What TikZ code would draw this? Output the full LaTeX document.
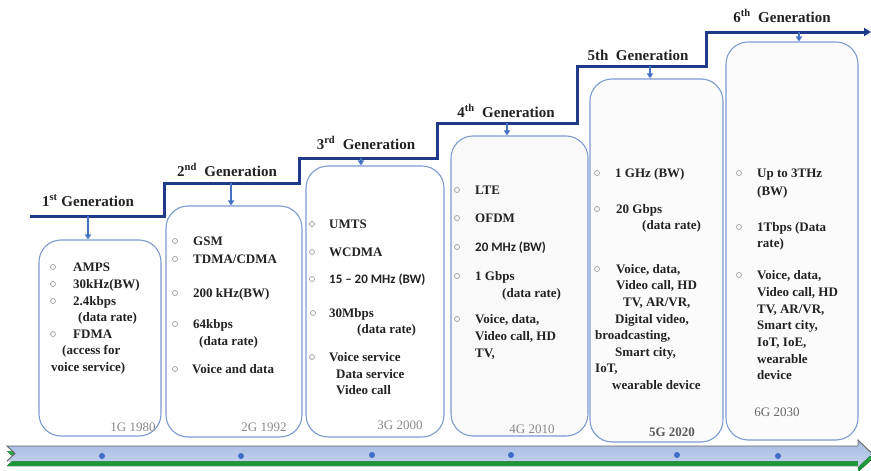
\documentclass[tikz,border=0pt]{standalone}
\usepackage{fontspec}
\setmainfont{Liberation Serif}
\newfontfamily\calfont{Carlito}
\usetikzlibrary{arrows.meta}
\definecolor{stepnavy}{HTML}{1F3A86}
\definecolor{dropblue}{HTML}{4472C4}
\definecolor{boxedge}{HTML}{7E9BD0}
\definecolor{bandblue}{HTML}{A6BBE2}
\definecolor{bandlight}{HTML}{C6D4EE}
\definecolor{bandgreen}{HTML}{2CB04A}
\definecolor{banddark}{HTML}{178A30}
\definecolor{yeargray}{HTML}{8A8A8A}
\definecolor{dotblue}{HTML}{3F6CC7}
\definecolor{inktext}{HTML}{222222}

\begin{document}
\begin{tikzpicture}[x=1pt,y=-1pt,
  gbox/.style={draw=boxedge, line width=1.1pt, rounded corners=22pt, inner sep=0pt},
  stepline/.style={draw=stepnavy, line width=3pt, -{Triangle[length=7pt,width=8pt]}},
  drop/.style={draw=dropblue, line width=2pt, -{Triangle[length=5pt,width=6pt]}},
  gen/.style={font=\fontsize{15}{18}\selectfont\bfseries, anchor=base, inner sep=0pt, text=inktext},
  txt/.style={font=\fontsize{13}{16}\selectfont\bfseries, anchor=base west, inner sep=0pt, text=inktext},
  sans/.style={anchor=base west, inner sep=0pt, text=inktext, font=\fontsize{13}{16}\selectfont\calfont\bfseries},
  bul/.style={circle, draw=gray!75, line width=0.7pt, minimum size=5pt, inner sep=0pt},
  year/.style={font=\fontsize{13}{16}\selectfont, text=yeargray, anchor=base, inner sep=0pt},
  tdot/.style={circle, fill=dotblue, minimum size=6pt, inner sep=0pt}]

\useasboundingbox (0,0) rectangle (871,471);
\fill[white] (0,0) rectangle (871,471);

% ---- timeline band at the bottom ----
\fill[top color=bandgreen, bottom color=banddark]
  (7,451) -- (858,451) -- (858,445) -- (873,458.5) -- (858,472) -- (858,466) -- (7,466) -- (15,458.5) -- cycle;
\fill[top color=bandblue, bottom color=bandlight]
  (7,446) -- (858,446) -- (858,440) -- (872,453.5) -- (858,467) -- (858,461) -- (7,461) -- (15,453.5) -- cycle;
\draw[gray!80!black, line width=0.9pt]
  (7,461) -- (15,453.5) -- (7,446) -- (858,446) -- (858,440) -- (872,453.5);
\node[tdot] (dot1) at (102,456) {};
\node[tdot] (dot2) at (241,456) {};
\node[tdot] (dot3) at (372,455) {};
\node[tdot] (dot4) at (511,455) {};
\node[tdot] (dot5) at (677,455) {};
\node[tdot] (dot6) at (778,456) {};

% ---- generation boxes ----
\node[gbox, fill=white,   minimum width=122pt, minimum height=196pt] (box1) at (100,338) {};
\node[gbox, fill=white,   minimum width=136pt, minimum height=231pt] (box2) at (234,321.5) {};
\node[gbox, fill=white,   minimum width=138pt, minimum height=271pt] (box3) at (375,301.5) {};
\node[gbox, fill=gray!5,  minimum width=137pt, minimum height=300pt] (box4) at (519.5,286) {};
\node[gbox, fill=gray!3,  minimum width=133pt, minimum height=363pt] (box5) at (656.5,260.5) {};
\node[gbox, fill=gray!3,  minimum width=132pt, minimum height=398pt] (box6) at (792,241) {};

% ---- stepped generation line ----
\coordinate (s0) at (30,216);
\coordinate (s1) at (164,216);
\coordinate (s2) at (164,183);
\coordinate (s3) at (299,183);
\coordinate (s4) at (299,158);
\coordinate (s5) at (437,158);
\coordinate (s6) at (437,123);
\coordinate (s7) at (577,123);
\coordinate (s8) at (577,66);
\coordinate (s9) at (706,66);
\coordinate (s10) at (706,32);
\coordinate (s11) at (871,32);
\draw[stepline] (s0) -- (s1) -- (s2) -- (s3) -- (s4) -- (s5) -- (s6) -- (s7) -- (s8) -- (s9) -- (s10) -- (s11);

% ---- drops from the line into each box ----
\coordinate (d1) at (88,216);
\coordinate (d2) at (231,183);
\coordinate (d3) at (361,158);
\coordinate (d4) at (507,123);
\coordinate (d5) at (650,66);
\coordinate (d6) at (799,32);
\draw[drop] (d1) -- (d1 |- box1.north);
\draw[drop] (d2) -- (d2 |- box2.north);
\draw[drop] (d3) -- (d3 |- box3.north);
\draw[drop] (d4) -- (d4 |- box4.north);
\draw[drop] (d5) -- (d5 |- box5.north);
\draw[drop] (d6) -- (d6 |- box6.north);

% ---- generation titles ----
\node[gen] (gen1) at (88,206) {1\textsuperscript{st} Generation};
\node[gen] (gen2) at (227,176) {2\textsuperscript{nd}\ \ Generation};
\node[gen] (gen3) at (366,149) {3\textsuperscript{rd}\ \ Generation};
\node[gen] (gen4) at (506,117) {4\textsuperscript{th}\ \ Generation};
\node[gen] (gen5) at (638,60) {5th\ \ Generation};
\node[gen] (gen6) at (782,22) {6\textsuperscript{th}\ \ Generation};

% ---- 1G ----
\node[bul] (b1a) at (53,267) {};
\node[txt] (t1a) at (73,271) {AMPS};
\node[bul] (b1b) at (53,284) {};
\node[txt] (t1b) at (73,288) {30kHz(BW)};
\node[bul] (b1c) at (53,301) {};
\node[txt] (t1c) at (73,305) {2.4kbps};
\node[txt] (t1d) at (78,321) {(data rate)};
\node[bul] (b1e) at (53,334) {};
\node[txt] (t1e) at (73,338) {FDMA};
\node[txt] (t1f) at (62,354) {(access for};
\node[txt] (t1g) at (51,371) {voice service)};
\node[year] (y1) at (133,431) {1G 1980};

% ---- 2G ----
\node[bul] (b2a) at (175,241) {};
\node[txt] (t2a) at (193,245) {GSM};
\node[bul] (b2b) at (175,259) {};
\node[txt] (t2b) at (193,263) {TDMA/CDMA};
\node[bul] (b2c) at (175,293) {};
\node[txt] (t2c) at (193,297) {200 kHz(BW)};
\node[bul] (b2d) at (175,324) {};
\node[txt] (t2d) at (193,328) {64kbps};
\node[txt] (t2e) at (199,345) {(data rate)};
\node[bul] (b2f) at (175,369) {};
\node[txt] (t2f) at (192,373) {Voice and data};
\node[year] (y2) at (264,431) {2G 1992};

% ---- 3G ----
\node[bul] (b3a) at (312,224) {};
\node[txt] (t3a) at (329,228) {UMTS};
\node[bul] (b3b) at (312,252) {};
\node[txt] (t3b) at (329,256) {WCDMA};
\node[bul] (b3c) at (312,279) {};
\node[sans] (t3c) at (329,283) {15 – 20 MHz (BW)};
\node[bul] (b3d) at (313,313) {};
\node[txt] (t3d) at (329,317) {30Mbps};
\node[txt] (t3e) at (357,333) {(data rate)};
\node[bul] (b3f) at (312,357) {};
\node[txt] (t3f) at (329,361) {Voice service};
\node[txt] (t3g) at (336,378) {Data service};
\node[txt] (t3h) at (336,394) {Video call};
\node[year] (y3) at (400,429) {3G 2000};

% ---- 4G ----
\node[bul] (b4a) at (457,190) {};
\node[txt] (t4a) at (475,194) {LTE};
\node[bul] (b4b) at (457,218) {};
\node[txt] (t4b) at (475,222) {OFDM};
\node[bul] (b4c) at (457,247) {};
\node[sans] (t4c) at (475,251) {20 MHz (BW)};
\node[bul] (b4d) at (457,276) {};
\node[txt] (t4d) at (475,280) {1 Gbps};
\node[txt] (t4e) at (502,297) {(data rate)};
\node[bul] (b4f) at (457,319) {};
\node[txt] (t4f) at (475,323) {Voice, data,};
\node[txt] (t4g) at (475,340) {Video call, HD};
\node[txt] (t4h) at (475,357) {TV,};
\node[year] (y4) at (532,433) {4G 2010};

% ---- 5G ----
\node[bul] (b5a) at (597,173) {};
\node[txt] (t5a) at (615,177) {1 GHz (BW)};
\node[bul] (b5b) at (597,209) {};
\node[txt] (t5b) at (616,213) {20 Gbps};
\node[txt] (t5c) at (642,229) {(data rate)};
\node[bul] (b5d) at (597,269) {};
\node[txt] (t5d) at (616,273) {Voice, data,};
\node[txt] (t5e) at (616,289) {Video call, HD};
\node[txt] (t5f) at (623,306) {TV, AR/VR,};
\node[txt] (t5g) at (615,323) {Digital video,};
\node[txt] (t5h) at (595,339) {broadcasting,};
\node[txt] (t5i) at (615,356) {Smart city,};
\node[txt] (t5j) at (595,372) {IoT,};
\node[txt] (t5k) at (612,389) {wearable device};
\node[year, font=\fontsize{13}{16}\selectfont\bfseries, text=gray!70!black] (y5) at (672,436) {5G 2020};

% ---- 6G ----
\node[bul] (b6a) at (739,173) {};
\node[txt] (t6a) at (757,177) {Up to 3THz};
\node[txt] (t6b) at (757,195) {(BW)};
\node[bul] (b6c) at (739,227) {};
\node[txt] (t6c) at (757,231) {1Tbps (Data};
\node[txt] (t6d) at (757,247) {rate)};
\node[bul] (b6e) at (739,275) {};
\node[txt] (t6e) at (757,279) {Voice, data,};
\node[txt] (t6f) at (757,296) {Video call, HD};
\node[txt] (t6g) at (757,313) {TV, AR/VR,};
\node[txt] (t6h) at (757,329) {Smart city,};
\node[txt] (t6i) at (757,346) {IoT, IoE,};
\node[txt] (t6j) at (757,363) {wearable};
\node[txt] (t6k) at (757,379) {device};
\node[year, text=gray!80!black] (y6) at (777,416) {6G 2030};

\end{tikzpicture}
\end{document}
